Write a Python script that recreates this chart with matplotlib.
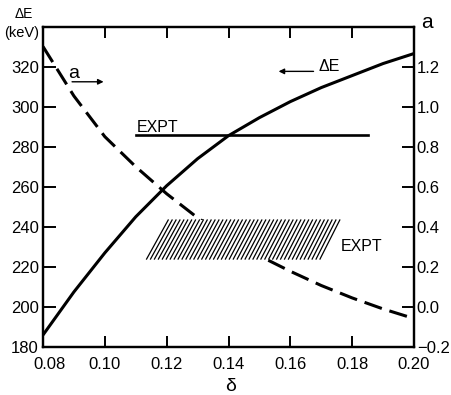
import numpy as np
import matplotlib.pyplot as plt
from matplotlib.transforms import ScaledTranslation

plt.rcParams['font.family'] = ['Liberation Sans', 'DejaVu Sans']

# ------------------------------------------------------------
# data
delta = [0.08, 0.09, 0.10, 0.11, 0.12, 0.13, 0.14, 0.15, 0.16, 0.17, 0.18, 0.19, 0.20]
dE = [186, 207.5, 227, 245, 260.5, 274, 285.5, 294.5, 302.5, 309.5, 315.5, 321.5, 326.5]
a_val = [1.30, 1.053, 0.85, 0.70, 0.565, 0.445, 0.345, 0.255, 0.178, 0.107, 0.045, -0.01, -0.058]

# experimental dE (solid horizontal line)
expt_dE = 286
expt_dE_range = [0.110, 0.185]

# experimental a band (hatched parallelogram)
expt_a = [0.239, 0.434]
expt_a_lo_range = [0.1135, 0.1696]   # delta span at the bottom edge
expt_a_hi_range = [0.1205, 0.1760]   # delta span at the top edge

x_ticks = [0.08, 0.10, 0.12, 0.14, 0.16, 0.18, 0.20]
y_ticks = [180, 200, 220, 240, 260, 280, 300, 320]
a_ticks = [-0.2, 0.0, 0.2, 0.4, 0.6, 0.8, 1.0, 1.2]

E_lim = (180, 339.6)

# ------------------------------------------------------------
fig = plt.figure(figsize=(4.51, 3.95), dpi=100)
fig.subplots_adjust(left=43/451, right=414/451, bottom=1-347/395, top=1-27.3/395)
ax = fig.add_subplot(111)
ax2 = ax.twinx()

ax.set_xlim(0.08, 0.20)
ax.set_ylim(*E_lim)
ax2.set_ylim((E_lim[0]-200)/100, (E_lim[1]-200)/100)

# dE curve and experimental value
ax.plot(delta, dE, color='k', lw=2.2, solid_capstyle='butt')
ax.plot(expt_dE_range, [expt_dE, expt_dE], color='k', lw=1.9)

# a curve (dashed), goes behind the hatched band
ax2.plot(delta, a_val, color='k', lw=2.2, linestyle=(0, (6, 2.6)), zorder=2)

# hatched band: white backing then slanted lines
poly_x = [expt_a_lo_range[0], expt_a_lo_range[1], expt_a_hi_range[1], expt_a_hi_range[0]]
poly_y = [expt_a[0], expt_a[0], expt_a[1], expt_a[1]]
ax2.fill(poly_x, poly_y, color='white', lw=0, zorder=3)
n_hatch = 45
xb = np.linspace(expt_a_lo_range[0], expt_a_lo_range[1], n_hatch)
xt = np.linspace(expt_a_hi_range[0], expt_a_hi_range[1], n_hatch)
for x0, x1 in zip(xb, xt):
    ax2.plot([x0, x1], expt_a, color='k', lw=0.9, zorder=4)

# text and arrows
ax.text(0.1103, 287.2, 'EXPT', fontsize=11.5, ha='left', va='baseline')
ax.text(0.1763, 228.0, 'EXPT', fontsize=11.5, ha='left', va='baseline')
ax.text(0.0882, 314.4, 'a', fontsize=14, ha='left', va='baseline')
ax.annotate('', xy=(0.0996, 312.4), xytext=(0.0894, 312.4),
            arrowprops=dict(arrowstyle='-|>', lw=1.0, color='k',
                            mutation_scale=8, shrinkA=0, shrinkB=0))
ax.text(0.1690, 317.6, 'ΔE', fontsize=11.5, ha='left', va='baseline')
ax.annotate('', xy=(0.1562, 317.6), xytext=(0.1675, 317.6),
            arrowprops=dict(arrowstyle='-|>', lw=1.0, color='k',
                            mutation_scale=8, shrinkA=0, shrinkB=0))

# axes labels
fig.text(15/451, 1-18.5/395, 'ΔE', fontsize=10, ha='left', va='baseline')
fig.text(4/451, 1-37.5/395, '(keV)', fontsize=10.5, ha='left', va='baseline')
fig.text(421/451, 1-28.5/395, 'a', fontsize=15, ha='left', va='baseline')
fig.text(231/451, 1-386.5/395, 'δ', fontsize=14, ha='center', va='center')

# ticks
ax.set_xticks(x_ticks)
ax.set_xticklabels(['%.2f' % v for v in x_ticks])
ax.set_yticks(y_ticks)
ax.set_yticklabels(['%d' % v for v in y_ticks])
ax2.set_yticks(a_ticks)
ax2.set_yticklabels([('%.1f' % v).replace('-', '\u2212') for v in a_ticks])

ax.tick_params(axis='x', direction='in', length=8, width=1.4, top=True,
               labelsize=12, pad=7)
ax.tick_params(axis='y', direction='in', length=9, width=1.4,
               labelsize=12, pad=3)
ax2.tick_params(axis='y', direction='in', length=9, width=1.4,
                labelsize=12, pad=2)

# shift the first x label right so it clears the "180"
lbl = ax.get_xticklabels()[0]
lbl.set_transform(lbl.get_transform() + ScaledTranslation(7/100, 0, fig.dpi_scale_trans))

for a in (ax, ax2):
    for s in a.spines.values():
        s.set_linewidth(1.6)

fig.savefig('out.png', dpi=100)
